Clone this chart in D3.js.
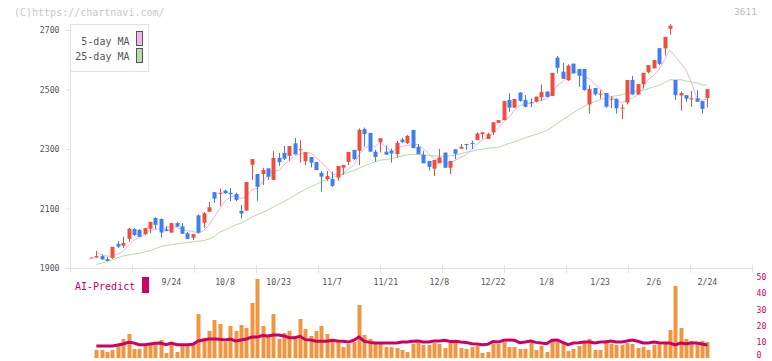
<!DOCTYPE html>
<html><head><meta charset="utf-8">
<script src="https://cdn.jsdelivr.net/npm/d3@7"></script>
<style>body{margin:0;background:#fff;}svg{display:block;}</style>
</head><body>
<svg id="c" width="772" height="361"></svg>
<script>
const opens = [1934,1935,1940,1930,1934,1981,1975,1998,2031,2028,
2014,2032,2068,2065,2030,2019,2051,2040,2017,2002,
2077,2052,2089,2155,2152,2160,2153,2149,2092,2093,
2247,2216,2216,2235,2196,2270,2287,2277,2319,2298,
2259,2273,2256,2220,2199,2199,2204,2237,2257,2297,
2294,2367,2354,2291,2323,2291,2294,2283,2332,2320,
2364,2307,2281,2260,2234,2252,2288,2237,2299,2301,
2317,2320,2330,2350,2334,2356,2388,2397,2465,2439,
2490,2465,2457,2459,2474,2493,2478,2607,2560,2531,
2587,2569,2569,2450,2505,2485,2488,2468,2469,2438,
2456,2532,2483,2518,2558,2571,2639,2638,2704,2532,
2480,2481,2469,2470,2461,2472];
const highs = [1935,1957,1945,1937,1971,1991,2005,2035,2035,2031,
2034,2055,2071,2066,2041,2051,2054,2051,2021,2014,
2080,2088,2122,2155,2167,2164,2169,2153,2112,2189,
2266,2216,2237,2235,2293,2287,2310,2310,2337,2330,
2289,2273,2256,2226,2226,2224,2243,2246,2290,2297,
2369,2372,2354,2297,2336,2312,2302,2327,2338,2347,
2364,2317,2294,2260,2263,2300,2288,2260,2299,2317,
2317,2328,2356,2356,2355,2390,2397,2461,2487,2468,
2490,2481,2470,2476,2517,2494,2556,2613,2590,2585,
2587,2569,2569,2515,2505,2498,2488,2478,2469,2450,
2532,2546,2518,2556,2582,2599,2639,2677,2720,2532,
2493,2481,2495,2498,2461,2501];
const lows = [1934,1935,1927,1922,1931,1967,1967,1988,2008,2005,
2010,2017,2030,2002,2024,2019,2039,2015,1998,1994,
2015,2035,2089,2119,2108,2149,2125,2125,2066,2093,
2196,2126,2179,2196,2196,2243,2263,2260,2282,2254,
2245,2238,2229,2157,2193,2173,2193,2213,2246,2263,
2246,2308,2291,2257,2288,2281,2254,2271,2321,2317,
2303,2283,2252,2227,2209,2252,2237,2216,2266,2301,
2297,2300,2330,2334,2334,2347,2388,2397,2425,2439,
2459,2440,2440,2456,2461,2474,2478,2554,2536,2529,
2554,2509,2496,2419,2480,2469,2439,2437,2419,2400,
2450,2483,2483,2503,2554,2571,2582,2614,2684,2465,
2429,2459,2442,2459,2419,2439];
const closes = [1935,1940,1929,1924,1971,1972,1984,2032,2011,2005,
2034,2055,2045,2019,2024,2051,2039,2015,1998,2014,
2019,2084,2104,2133,2153,2151,2148,2129,2083,2189,
2266,2173,2229,2207,2270,2256,2267,2310,2282,2299,
2289,2254,2229,2207,2209,2176,2243,2246,2290,2266,
2364,2350,2291,2273,2336,2281,2285,2321,2323,2344,
2303,2283,2252,2240,2263,2272,2237,2260,2284,2307,
2316,2319,2352,2356,2350,2390,2397,2461,2439,2468,
2462,2442,2456,2476,2491,2475,2556,2573,2536,2580,
2554,2546,2498,2502,2484,2486,2442,2469,2437,2439,
2532,2483,2518,2556,2582,2599,2586,2677,2714,2481,
2488,2469,2470,2459,2435,2501];
const ma5 = [null,1952,1944,1940,1940,1947,1956,1977,1994,2001,
2013,2027,2030,2032,2035,2039,2036,2030,2025,2023,
2017,2026,2044,2071,2099,2125,2138,2143,2133,2140,
2163,2168,2188,2213,2229,2227,2246,2262,2277,2283,
2289,2287,2271,2256,2238,2215,2213,2216,2233,2244,
2282,2303,2312,2309,2323,2306,2293,2299,2309,2311,
2315,2315,2301,2284,2268,2262,2253,2254,2263,2272,
2281,2297,2316,2330,2339,2353,2369,2391,2407,2431,
2445,2454,2453,2461,2465,2468,2491,2514,2526,2544,
2560,2558,2543,2536,2517,2503,2482,2477,2464,2455,
2464,2472,2482,2506,2534,2548,2568,2600,2632,2611,
2589,2566,2524,2473,2464,2467];
const ma25 = [null,1912,1916,1921,1927,1935,1940,1944,1947,1949,
1954,1958,1965,1972,1976,1978,1981,1983,1986,1988,
1990,1992,1997,2005,2020,2028,2037,2045,2051,2060,
2071,2079,2087,2095,2105,2114,2123,2133,2144,2155,
2164,2173,2181,2190,2198,2204,2210,2216,2222,2227,
2235,2243,2250,2257,2263,2264,2268,2272,2277,2280,
2282,2282,2280,2278,2277,2276,2275,2277,2280,2284,
2289,2292,2297,2299,2303,2304,2305,2312,2319,2324,
2331,2338,2343,2349,2355,2362,2373,2386,2398,2410,
2422,2434,2443,2452,2459,2466,2471,2476,2479,2482,
2488,2492,2494,2498,2503,2509,2514,2523,2533,2532,
2533,2529,2525,2522,2516,2514];
const volume = [null,5.0,5.0,3.7,5.0,7.5,11.8,14.9,5.6,5.6,
7.5,8.1,9.3,11.2,3.1,8.7,3.7,7.5,7.5,8.7,
27.3,12.4,16.8,23.6,21.1,9.9,19.9,16.8,20.5,18.6,
34.2,49.1,19.9,13.0,27.3,11.8,15.5,16.8,13.7,24.2,
18.0,13.7,16.8,19.9,14.9,11.2,9.9,6.8,8.7,9.9,
32.9,14.3,11.8,9.9,8.7,6.8,6.8,6.2,5.0,3.7,
8.7,9.3,8.1,8.1,9.3,8.7,6.2,9.3,9.9,6.2,
5.6,6.8,7.5,3.1,3.7,8.7,8.7,9.9,6.8,6.8,
5.6,5.6,9.3,5.0,7.5,3.7,11.2,9.9,9.3,4.3,
5.6,7.5,9.3,11.8,5.0,5.0,11.2,8.7,8.1,8.1,
9.3,8.7,6.2,6.8,5.0,8.1,9.9,9.3,17.4,44.7,
18.6,11.8,10.6,9.9,10.6,9.9];
const aiPredict = [null,7.5,7.5,7.5,7.5,8.1,8.7,9.7,9.3,8.3,
8.3,8.7,9.1,9.3,8.3,9.3,8.3,8.3,8.3,8.5,
10.6,11.2,11.8,11.8,11.6,11.2,11.8,10.6,11.2,11.8,
13.0,13.0,14.0,13.7,14.3,14.3,13.7,12.6,12.6,13.5,
11.4,11.2,10.4,10.4,10.4,11.0,10.6,10.4,9.9,11.0,
13.0,10.4,9.7,9.3,9.3,9.3,9.3,9.3,9.9,9.9,
10.4,10.6,9.9,9.9,10.6,10.6,11.0,10.2,10.4,9.9,
9.7,8.9,8.7,8.3,8.5,10.2,9.9,11.0,11.2,11.0,
9.5,9.9,10.6,9.7,9.3,8.9,11.0,11.2,9.7,8.3,
9.3,9.5,9.9,9.9,9.3,9.9,9.9,10.6,9.9,9.9,
10.6,11.2,10.4,9.3,9.3,9.9,9.5,9.3,9.3,8.1,
9.3,8.9,9.3,9.3,8.7,8.1];
const xLabels = ["9/24","10/8","10/23","11/7","11/21","12/8","12/22","1/8","1/23","2/6","2/24"];
const xLabelIdx = [15,25,35,45,55,65,75,85,95,105,115];
const yTicks = [1900,2100,2300,2500,2700];
const rightTicks = [0,10,20,30,40,50];
const legendNames = ["5-day MA","25-day MA"];

const FONT = "'DejaVu Sans Mono', monospace";
const svg = d3.select("#c");
const n = closes.length;
const idx = d3.range(n);
const x = d3.scalePoint().domain(idx).range([91, 707.4]);
const y = d3.scaleLinear().domain([1900, 2700]).range([268, 30]);
const yb = d3.scaleLinear().domain([0, 50]).range([358, 277.5]);
const gridTicks = d3.scaleLinear().domain([0, 11]).range([70, 752]);
const axisCol = "#e2e2e2";
const textCol = "#555";
const up = "#f04e3c", down = "#3f7ef0";

// copyright & code
svg.append("text").attr("x", 14).attr("y", 12.5).attr("dy", "0.35em")
  .attr("font-family", FONT).attr("font-size", 10).attr("fill", "#c8c8c8")
  .text("(C)https://chartnavi.com/");
svg.append("text").attr("x", 757).attr("y", 12).attr("dy", "0.35em").attr("text-anchor", "end")
  .attr("font-family", FONT).attr("font-size", 9.5).attr("fill", "#bbb").text("3611");

// y axis
svg.append("line").attr("x1", 70.5).attr("x2", 70.5).attr("y1", 24).attr("y2", 272)
  .attr("stroke", axisCol);
const yg = svg.append("g").attr("transform", "translate(70.5,0)")
  .call(d3.axisLeft(y).tickValues(yTicks).tickSize(5).tickPadding(6).tickFormat(d3.format("d")));
yg.select(".domain").remove();
yg.selectAll("line").attr("stroke", axisCol);
yg.selectAll("text").attr("font-family", FONT).attr("font-size", 8.2).attr("fill", textCol);

// x axis line + grid ticks
svg.append("line").attr("x1", 70).attr("x2", 752).attr("y1", 268.5).attr("y2", 268.5).attr("stroke", axisCol);
svg.append("g").selectAll("line").data(d3.range(1, 12)).join("line")
  .attr("x1", d => Math.round(gridTicks(d)) + 0.5).attr("x2", d => Math.round(gridTicks(d)) + 0.5)
  .attr("y1", 265).attr("y2", 273).attr("stroke", axisCol);
svg.append("g").selectAll("text").data(xLabels).join("text")
  .attr("x", (d, i) => x(xLabelIdx[i])).attr("y", 282).attr("dy", "0.35em")
  .attr("text-anchor", "middle").attr("font-family", FONT).attr("font-size", 8.2)
  .attr("fill", textCol).text(d => d);

// moving averages
const line = arr => d3.line().defined(d => arr[d] != null).x(d => x(d)).y(d => y(arr[d]))(idx);
svg.append("path").attr("d", line(ma25)).attr("fill", "none").attr("stroke", "#b4dca4").attr("stroke-width", 1);
svg.append("path").attr("d", line(ma5)).attr("fill", "none").attr("stroke", "#e8b4ec").attr("stroke-width", 1);

// candles
const cg = svg.append("g");
cg.selectAll("line").data(idx).join("line")
  .attr("x1", i => Math.round(x(i)) + 0.5).attr("x2", i => Math.round(x(i)) + 0.5)
  .attr("y1", i => y(highs[i])).attr("y2", i => y(lows[i]))
  .attr("stroke", i => closes[i] >= opens[i] ? up : down).attr("stroke-width", 1);
cg.selectAll("rect").data(idx).join("rect")
  .attr("x", i => Math.round(x(i)) - 1.5).attr("width", 4)
  .attr("y", i => y(Math.max(opens[i], closes[i])))
  .attr("height", i => Math.max(1, Math.abs(y(opens[i]) - y(closes[i]))))
  .attr("fill", i => closes[i] >= opens[i] ? up : down);

// legend
svg.append("rect").attr("x", 70.5).attr("y", 24.5).attr("width", 78).attr("height", 47)
  .attr("fill", "#fff").attr("stroke", axisCol);
const legCols = ["#ecb8ec", "#b8dca8"];
legendNames.forEach((name, i) => {
  svg.append("text").attr("x", 129.5).attr("y", 41.5 + i * 15).attr("dy", "0.35em")
    .attr("text-anchor", "end").attr("font-family", FONT).attr("font-size", 10)
    .attr("fill", textCol).text(name);
  svg.append("rect").attr("x", 136.5).attr("y", 31.5 + i * 17).attr("width", 6).attr("height", 14)
    .attr("fill", legCols[i]).attr("stroke", "#555");
});

// bottom panel
svg.append("text").attr("x", 75).attr("y", 286).attr("dy", "0.35em")
  .attr("font-family", FONT).attr("font-size", 10).attr("fill", "#cc0066").text("AI-Predict");
svg.append("rect").attr("x", 142).attr("y", 277).attr("width", 7).attr("height", 16).attr("fill", "#cc0066");

svg.append("g").selectAll("rect").data(idx.filter(i => volume[i] != null)).join("rect")
  .attr("x", i => Math.round(x(i)) - 1.5).attr("width", 4)
  .attr("y", i => yb(volume[i])).attr("height", i => yb(0) - yb(volume[i]))
  .attr("fill", "#f09640");

svg.append("path")
  .attr("d", d3.line().defined(d => aiPredict[d] != null).x(d => x(d)).y(d => yb(aiPredict[d]))(idx))
  .attr("fill", "none").attr("stroke", "#cc0066").attr("stroke-width", 3);

svg.append("g").selectAll("text").data(rightTicks).join("text")
  .attr("x", 756.5).attr("y", d => Math.min(yb(d), 355.5)).attr("dy", "0.35em")
  .attr("font-family", FONT).attr("font-size", 8.2).attr("fill", "#cc0066").text(d => d);
</script>
</body></html>
